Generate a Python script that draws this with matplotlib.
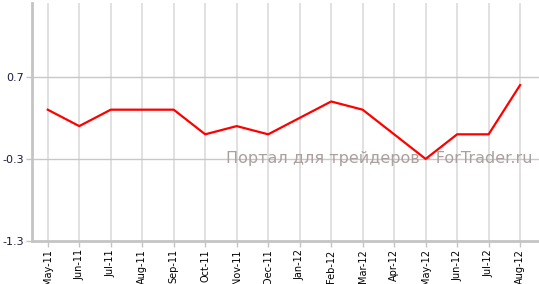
import numpy as np
import matplotlib
matplotlib.use("Agg")
import matplotlib.pyplot as plt

months = ["May-11", "Jun-11", "Jul-11", "Aug-11", "Sep-11", "Oct-11", "Nov-11",
          "Dec-11", "Jan-12", "Feb-12", "Mar-12", "Apr-12", "May-12", "Jun-12",
          "Jul-12", "Aug-12"]
values = [0.3, 0.1, 0.3, 0.3, 0.3, 0.0, 0.1, 0.0, 0.2, 0.4, 0.3, 0.0, -0.3,
          0.0, 0.0, 0.6]
yticks = [-1.3, -0.3, 0.7]

fig = plt.figure(figsize=(5.39, 2.84), dpi=100)
ax = fig.add_axes([32 / 539, 43 / 284, 1 - 32 / 539, 238 / 284])

x = np.arange(len(months))

# grid
for xi in x:
	ax.axvline(xi, color="#dedede", lw=1.3, zorder=0)
for yv in yticks[1:]:
	ax.axhline(yv, color="#c8c8c8", lw=1.0, zorder=0)

ax.plot(x, values, color="#ff0000", lw=1.6, zorder=3)

ax.text(0.988, 0.345, "Портал для трейдеров - ForTrader.ru", transform=ax.transAxes,
	ha="right", va="center", fontsize=11.5, color="#ab9f9f", zorder=2)

ax.set_xlim(-0.5, 15.6)
ax.set_ylim(-1.3, 1.6)
ax.set_xticks(x)
ax.set_xticklabels(months, rotation=90, fontsize=7)
ax.set_yticks(yticks)
ax.set_yticklabels([str(v) for v in yticks], fontsize=8, color="#1a1a3a")

for s in ["top", "right"]:
	ax.spines[s].set_visible(False)
for s in ["left", "bottom"]:
	ax.spines[s].set_color("#c4c4c4")
	ax.spines[s].set_linewidth(2.0)
ax.tick_params(axis="both", length=4, width=1, color="#c4c4c4", pad=2)

fig.savefig("out.png", dpi=100)
